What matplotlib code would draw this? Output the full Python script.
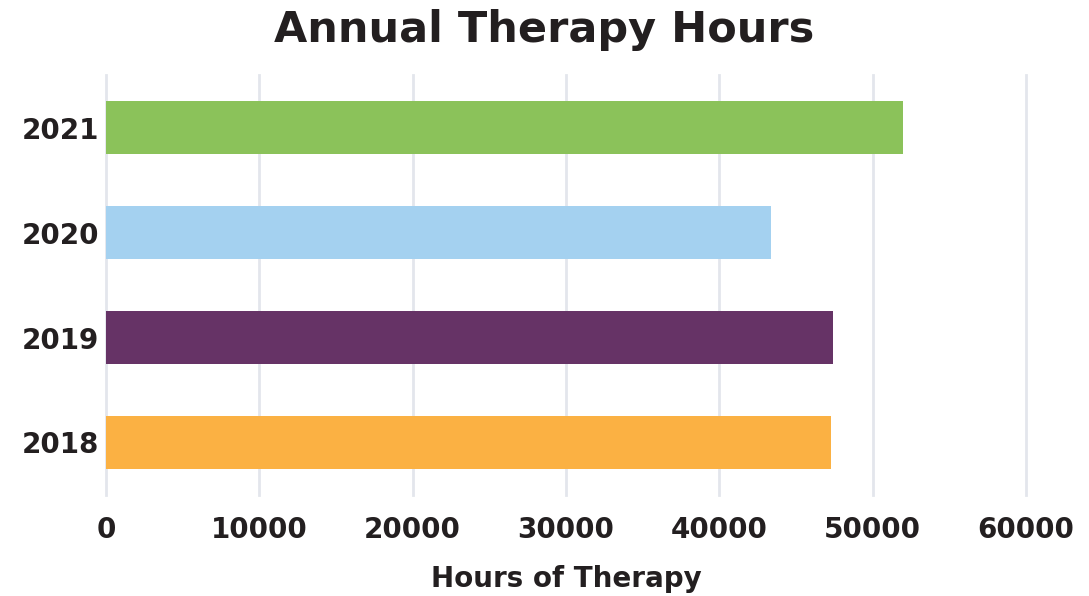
import matplotlib.pyplot as plt

# values
years = ["2018", "2019", "2020", "2021"]
hours = [47300, 47450, 43400, 52000]
bar_colors = ["#FBB143", "#663366", "#A4D1F0", "#8BC25A"]
x_ticks = [0, 10000, 20000, 30000, 40000, 50000, 60000]

text_color = "#231F20"
grid_color = "#E3E6EC"

plt.rcParams["font.family"] = ["DejaVu Sans"]

fig = plt.figure(figsize=(10.89, 5.96), dpi=100)
ax = fig.add_axes([0.0973, 0.1695, 0.8447, 0.7045])

ax.barh(range(len(years)), hours, height=0.5, color=bar_colors, zorder=2)

ax.set_xlim(0, 60000)
ax.set_ylim(-0.5, 3.5)
ax.set_xticks(x_ticks)
ax.set_xticklabels([str(t) for t in x_ticks])
ax.set_yticks(range(len(years)))
ax.set_yticklabels(years)

ax.grid(axis="x", color=grid_color, linewidth=2, zorder=0)
ax.grid(axis="y", visible=False)
for gl in ax.get_xgridlines():
    gl.set_clip_on(False)
for side in ["top", "right", "bottom", "left"]:
    ax.spines[side].set_visible(False)

ax.tick_params(axis="x", length=0, pad=15, labelsize=20, labelcolor=text_color)
ax.tick_params(axis="y", length=0, pad=5, labelsize=20, labelcolor=text_color)
for lbl in ax.get_xticklabels() + ax.get_yticklabels():
    lbl.set_fontweight("bold")

ax.set_xlabel("Hours of Therapy", fontsize=20, fontweight="bold", color=text_color, labelpad=15)
fig.suptitle("Annual Therapy Hours", x=0.5, y=0.985, fontsize=31, fontweight="bold", color=text_color)

fig.savefig("out.png", dpi=100)
